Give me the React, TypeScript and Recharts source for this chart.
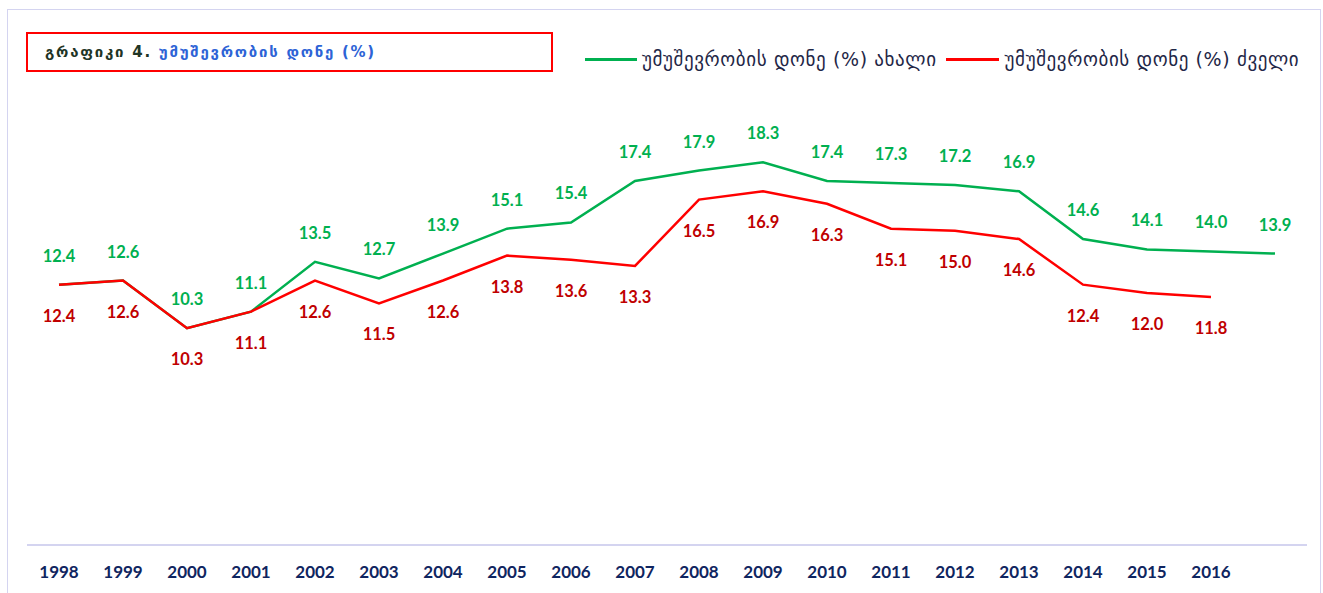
import React from "react";
import { LineChart, Line, XAxis, YAxis, LabelList } from "recharts";

const years = ["1998","1999","2000","2001","2002","2003","2004","2005","2006","2007","2008","2009","2010","2011","2012","2013","2014","2015","2016","2017"];
const tickLabels = ["1998","1999","2000","2001","2002","2003","2004","2005","2006","2007","2008","2009","2010","2011","2012","2013","2014","2015","2016",""];
const newRate = [12.4,12.6,10.3,11.1,13.5,12.7,13.9,15.1,15.4,17.4,17.9,18.3,17.4,17.3,17.2,16.9,14.6,14.1,14.0,13.9];
const oldRate: (number | null)[] = [12.4,12.6,10.3,11.1,12.6,11.5,12.6,13.8,13.6,13.3,16.5,16.9,16.3,15.1,15.0,14.6,12.4,12.0,11.8,null];

const seriesNewName = "უმუშევრობის დონე (%) ახალი";
const seriesOldName = "უმუშევრობის დონე (%) ძველი";
const titlePrefix = "გრაფიკი 4. ";
const titleMain = "უმუშევრობის დონე (%)";

const data = years.map((y, i) => ({ year: y, newRate: newRate[i], oldRate: oldRate[i] }));

const GREEN = "#00b050";
const RED = "#ff0000";
const DARKRED = "#c00000";
const NAVY = "#0f2560";

const labelFont = "Lato, 'Open Sans', sans-serif";

const makeLabel = (dy: number, color: string) => (props: any) => {
  const { x, y, value } = props;
  if (value === null || value === undefined) return null;
  return (
    <text x={x} y={y + dy} textAnchor="middle" dominantBaseline="central" fill={color}
      fontFamily={labelFont} fontWeight={700} fontSize={16.5}>
      {Number(value).toFixed(1)}
    </text>
  );
};

const Tick = (props: any) => {
  const { x, y, index } = props;
  return (
    <text x={x} y={y + 18} textAnchor="middle" dominantBaseline="central" fill={NAVY}
      fontFamily={labelFont} fontWeight={700} fontSize={17}>
      {tickLabels[index]}
    </text>
  );
};

export default function App() {
  return (
    <div style={{ position: "absolute", left: 0, top: 0, width: 1323, height: 593, background: "#fff", overflow: "hidden" }}>
      <div style={{ position: "absolute", left: 7, top: 9, width: 1314, height: 600, border: "1px solid #d4d4f0", boxSizing: "border-box" }} />
      <div style={{ position: "absolute", left: 26, top: 32, width: 527, height: 40, border: "2px solid #ff0000", boxSizing: "border-box" }} />
      <div style={{ position: "absolute", left: 45, top: 42, fontFamily: "'DejaVu Sans', sans-serif", fontWeight: 700, fontSize: 15, letterSpacing: 1.75, lineHeight: "20px", whiteSpace: "nowrap" }}>
        <span style={{ color: "#1f3526" }}>{titlePrefix}</span>
        <span style={{ color: "#2d63d6" }}>{titleMain}</span>
      </div>
      <div style={{ position: "absolute", left: 585, top: 47, height: 24, display: "flex", alignItems: "center", fontFamily: "'DejaVu Sans', sans-serif", fontSize: 19, letterSpacing: 0.6, color: "#1f2747", whiteSpace: "nowrap" }}>
        <span style={{ display: "inline-block", width: 52, height: 3, background: GREEN, marginRight: 5 }} />
        <span>{seriesNewName}</span>
        <span style={{ display: "inline-block", width: 53, height: 3, background: RED, marginLeft: 9, marginRight: 6 }} />
        <span>{seriesOldName}</span>
      </div>
      <div style={{ position: "absolute", left: 0, top: 0 }}>
        <LineChart width={1323} height={593} data={data} margin={{ top: 127, right: 16, bottom: 18, left: 27 }}>
          <XAxis dataKey="year" height={30} padding={{ left: 32, right: 32 }} axisLine={{ stroke: "#d4d4f0", strokeWidth: 2 }}
            tickLine={false} tick={<Tick />} interval={0} />
          <YAxis hide domain={[-0.15, 20]} />
          <Line type="linear" dataKey="newRate" stroke={GREEN} strokeWidth={2.5} dot={false} isAnimationActive={false}>
            <LabelList dataKey="newRate" content={makeLabel(-29, GREEN)} />
          </Line>
          <Line type="linear" dataKey="oldRate" stroke={RED} strokeWidth={2.5} dot={false} isAnimationActive={false} connectNulls={false}>
            <LabelList dataKey="oldRate" content={makeLabel(31, DARKRED)} />
          </Line>
        </LineChart>
      </div>
    </div>
  );
}
